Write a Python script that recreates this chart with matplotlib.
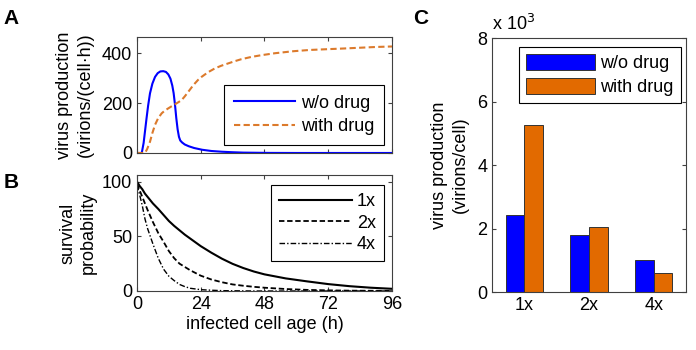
import numpy as np
import matplotlib
matplotlib.use("Agg")
import matplotlib.pyplot as plt
from matplotlib.ticker import FuncFormatter

# panel A: virus production rate vs infected cell age
t_nodrug = [0, 1.8, 2.5, 3.0, 3.6, 4.2, 4.9, 5.8, 6.8, 7.8, 8.8, 9.9, 10.9,
            11.8, 12.6, 13.3, 13.8, 14.3, 14.8, 15.3, 15.8, 16.3, 17.0, 18.0,
            19.5, 21.5, 24.5, 28, 32, 36, 40, 50, 60, 96]
prod_nodrug = [0, 0, 40, 85, 139, 190, 239, 278, 305, 320, 327, 328, 325,
               315, 298, 270, 240, 195, 140, 95, 65, 50, 42, 34,
               27, 20, 13, 8, 5, 3, 1.5, 0.3, 0, 0]
t_drug = [0, 3.0, 3.8, 4.9, 5.8, 6.8, 8.0, 9.3, 10.5, 11.8, 13.0, 14.3, 15.5,
          16.8, 18.0, 19.3, 20.5, 21.8, 23.0, 24.3, 26.8, 29.3, 31.8, 34.3,
          36.8, 39.3, 43, 46.8, 52, 58.9, 65, 71.4, 78, 84, 90, 96]
prod_drug = [0, 0, 15, 45, 80, 113, 140, 159, 170, 179, 187, 195, 203,
             212, 227, 245, 262, 279, 293, 305, 324, 339, 350, 359,
             368, 376, 385, 392, 400, 408, 413, 416, 419, 422, 425, 427]

# panel B: survival probability (%)
t_surv = [0, 1, 2, 3, 4, 5, 6, 8, 10, 12, 14, 16, 18, 20, 24, 28, 32, 36, 40,
          44, 48, 56, 64, 72, 80, 88, 96]
surv_1x = [100, 96, 93, 89, 86, 83, 80, 75, 69.5, 64, 59.5, 55.5, 51.5, 48,
           41, 35, 29.5, 24.8, 21, 17.8, 15.2, 11.5, 8.8, 6.3, 4.4, 3.0, 2.0]
surv_2x = [98, 92, 86, 80, 74, 68.5, 63, 53, 45, 36.5, 30, 25, 22, 19,
           14, 10.5, 8, 6, 4.8, 3.8, 3, 1.8, 1, 0.6, 0.3, 0.2, 0.1]
surv_4x = [97, 88, 78, 66, 57, 50, 43, 30, 20, 13.5, 9.5, 6, 4, 2.5,
           1.2, 0.7, 0.3, 0.2, 0.1, 0, 0, 0, 0, 0, 0, 0, 0]

# panel C: total virus production per cell
doses = ["1x", "2x", "4x"]
total_nodrug = [2420, 1780, 1010]
total_drug = [5270, 2050, 590]

blue = "#0000FF"
orange = "#E26A00"
orange_line = "#DC7A2C"
axcol = "0.25"

plt.rcParams["font.family"] = ["Liberation Sans", "DejaVu Sans"]
plt.rcParams["font.size"] = 13
plt.rcParams["axes.linewidth"] = 0.8
plt.rcParams["axes.edgecolor"] = axcol
plt.rcParams["xtick.direction"] = "in"
plt.rcParams["ytick.direction"] = "in"
plt.rcParams["xtick.top"] = True
plt.rcParams["ytick.right"] = True
plt.rcParams["xtick.color"] = axcol
plt.rcParams["ytick.color"] = axcol
plt.rcParams["xtick.labelcolor"] = "black"
plt.rcParams["ytick.labelcolor"] = "black"
plt.rcParams["xtick.major.size"] = 3
plt.rcParams["ytick.major.size"] = 3
plt.rcParams["legend.fancybox"] = False
plt.rcParams["legend.edgecolor"] = "black"
plt.rcParams["legend.framealpha"] = 1


def legend_frame(leg):
    leg.get_frame().set_linewidth(0.8)


fig = plt.figure(figsize=(6.96, 3.5), dpi=100)
axA = fig.add_axes([0.1968, 0.5629, 0.3664, 0.3314])
axB = fig.add_axes([0.1968, 0.1686, 0.3664, 0.3314])
axC = fig.add_axes([0.7069, 0.1657, 0.2787, 0.7257])

# A
axA.plot(t_nodrug, prod_nodrug, color=blue, lw=1.5, label="w/o drug")
axA.plot(t_drug, prod_drug, color=orange_line, lw=1.5, ls=(0, (3, 1.6)),
         label="with drug")
axA.set_xlim(0, 96)
axA.set_ylim(0, 465)
axA.set_xticks([0, 24, 48, 72, 96])
axA.set_xticklabels([])
axA.set_yticks([0, 200, 400])
axA.set_ylabel("virus production\n(virions/(cell\u00b7h))", linespacing=1.25,
               labelpad=6)
leg = axA.legend(loc="lower right", bbox_to_anchor=(0.969, 0.069),
                 borderaxespad=0, handlelength=3.4, handletextpad=0.3,
                 borderpad=0.55, labelspacing=0.35)
legend_frame(leg)

# B
axB.plot(t_surv, surv_1x, color="black", lw=1.5, label="1x")
axB.plot(t_surv, surv_2x, color="black", lw=1.3, ls=(0, (3, 1.5)), label="2x")
axB.plot(t_surv, surv_4x, color="black", lw=1.0, ls=(0, (4, 1.5, 1, 1.5)),
         label="4x")
axB.set_xlim(0, 96)
axB.set_ylim(0, 106)
axB.set_xticks([0, 24, 48, 72, 96])
axB.set_yticks([0, 50, 100])
axB.set_xlabel("infected cell age (h)", labelpad=2)
axB.set_ylabel("survival\nprobability", linespacing=1.25, labelpad=4)
leg = axB.legend(loc="upper right", bbox_to_anchor=(0.969, 0.914),
                 borderaxespad=0, handlelength=4.0, handletextpad=0.3,
                 borderpad=0.45, labelspacing=0.25)
legend_frame(leg)

# C
x = np.arange(1, len(doses) + 1)
w = 0.29
axC.bar(x - w / 2, total_nodrug, w, color=blue, edgecolor="0.2", lw=0.7,
        label="w/o drug")
axC.bar(x + w / 2, total_drug, w, color=orange, edgecolor="0.2", lw=0.7,
        label="with drug")
axC.set_xlim(0.5, 3.5)
axC.set_ylim(0, 8000)
axC.set_xticks(x)
axC.set_xticklabels(doses)
axC.set_yticks([0, 2000, 4000, 6000, 8000])
axC.yaxis.set_major_formatter(FuncFormatter(lambda v, p: f"{v / 1000:g}"))
axC.tick_params(axis="x", which="both", top=False, bottom=False)
axC.set_ylabel("virus production\n(virions/cell)", linespacing=1.25,
               labelpad=6)
axC.text(0.0, 1.015, "x 10$^3$", transform=axC.transAxes, ha="left",
         va="bottom", fontsize=13)
leg = axC.legend(loc="upper right", bbox_to_anchor=(0.974, 0.965),
                 borderaxespad=0, handlelength=3.8, handleheight=1.0,
                 handletextpad=0.3, borderpad=0.4, labelspacing=0.3)
legend_frame(leg)

# panel letters
fig.text(0.005, 0.975, "A", fontsize=15, fontweight="bold", va="top")
fig.text(0.005, 0.505, "B", fontsize=15, fontweight="bold", va="top")
fig.text(0.593, 0.975, "C", fontsize=15, fontweight="bold", va="top")

fig.savefig("out.png", dpi=100)
